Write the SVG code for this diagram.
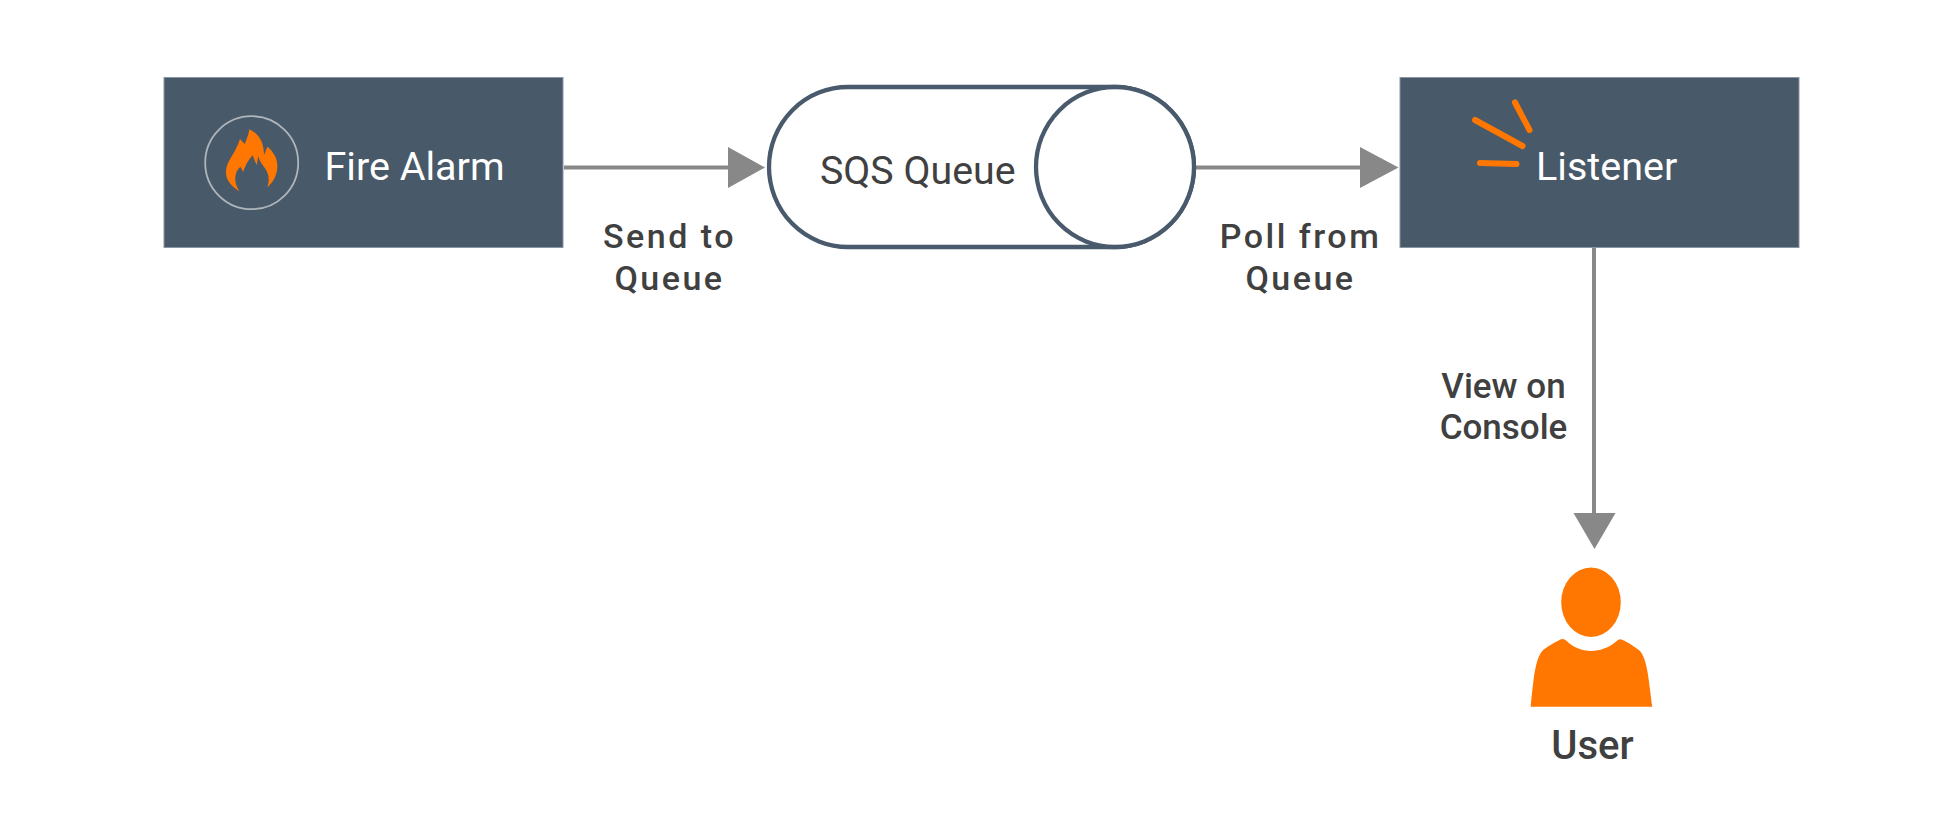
<svg xmlns="http://www.w3.org/2000/svg" width="1943" height="832" viewBox="0 0 1943 832">
<style>
text{font-family:Roboto,"Liberation Sans",sans-serif}
.box{fill:#485969;stroke:#8a96a1;stroke-width:1}
.nl{font-size:39.500px;fill:#fff;font-weight:400}
.el{font-size:34px;fill:#404040;font-weight:500;text-anchor:middle}
.sp{letter-spacing:2.500px}
.tg{font-size:35px}
.cn{stroke:#888;stroke-width:4;fill:none}
.ah{fill:#888}
.q{fill:#fff;stroke:#485a6c;stroke-width:4.300}
.or{fill:#ff7700}
.tick{stroke:#ff7700;stroke-width:6;stroke-linecap:round;fill:none}
</style>
<rect width="1943" height="832" fill="#fff"/>
<g id="connectors">
<path class="cn" d="M564 167.500H730"/>
<path class="ah" d="M728 147L765 167.500L728 188Z"/>
<path class="cn" d="M1196 167.500H1364"/>
<path class="ah" d="M1360 147L1398.500 167.500L1360 188Z"/>
<path class="cn" d="M1594 248V515"/>
<path class="ah" d="M1573.500 513H1615.500L1594.500 549Z"/>
</g>
<g id="fire-alarm">
<rect class="box" x="164" y="77.500" width="399" height="170"/>
<circle cx="251.700" cy="162.700" r="46.500" fill="none" stroke="#aeb5bb" stroke-width="1.800"/>
<path class="or" transform="translate(190 100) scale(.3333)" d="M148 274C122 258 106 238 108 212C110 182 138 158 150 117L164 132C170 118 176 104 178 88C204 100 222 124 222 166L232 140C254 158 264 180 262 204C260 228 248 250 232 261C240 238 236 222 226 206C216 192 206 180 205 167L200 196L188 166C176 180 166 194 160 216L151 200C132 218 130 248 148 274Z"/>
<text class="nl" x="324.500" y="180">Fire Alarm</text>
</g>
<g id="sqs-queue">
<path class="q" d="M848 87H1115A79 80 0 0 1 1115 247H848A79 80 0 0 1 848 87Z"/>
<ellipse class="q" cx="1115" cy="167" rx="79" ry="80"/>
<text x="820" y="184" font-size="39.300" fill="#404040">SQS Queue</text>
</g>
<g id="listener">
<rect class="box" x="1400" y="77.500" width="399" height="170"/>
<path class="tick" d="M1515 102.500L1529.500 130M1475 120L1522.500 146M1480 163L1516.500 164"/>
<text class="nl" x="1536" y="180">Listener</text>
</g>
<g id="user">
<ellipse class="or" cx="1591" cy="602.300" rx="29.800" ry="34.700"/>
<path class="or" transform="translate(1400 350) scale(.3333)" d="M392 1070C400 1000 403 935 425 905C435 893 470 875 483 868Q492 865 500 873C520 892 545 903 573 903C600 903 630 892 650 873Q658 865 668 870C680 875 710 893 722 905C744 935 747 1000 757 1070Z"/>
<text x="1592.500" y="758.500" font-size="40" font-weight="500" fill="#404040" text-anchor="middle">User</text>
</g>
<g id="edge-labels">
<text class="el sp" x="669.500" y="247.500">Send to</text>
<text class="el sp" x="669.500" y="290">Queue</text>
<text class="el sp" x="1300.500" y="247.500">Poll from</text>
<text class="el sp" x="1300.500" y="290">Queue</text>
<text class="el tg" x="1503.500" y="398">View on</text>
<text class="el tg" x="1503.500" y="439">Console</text>
</g>
</svg>
